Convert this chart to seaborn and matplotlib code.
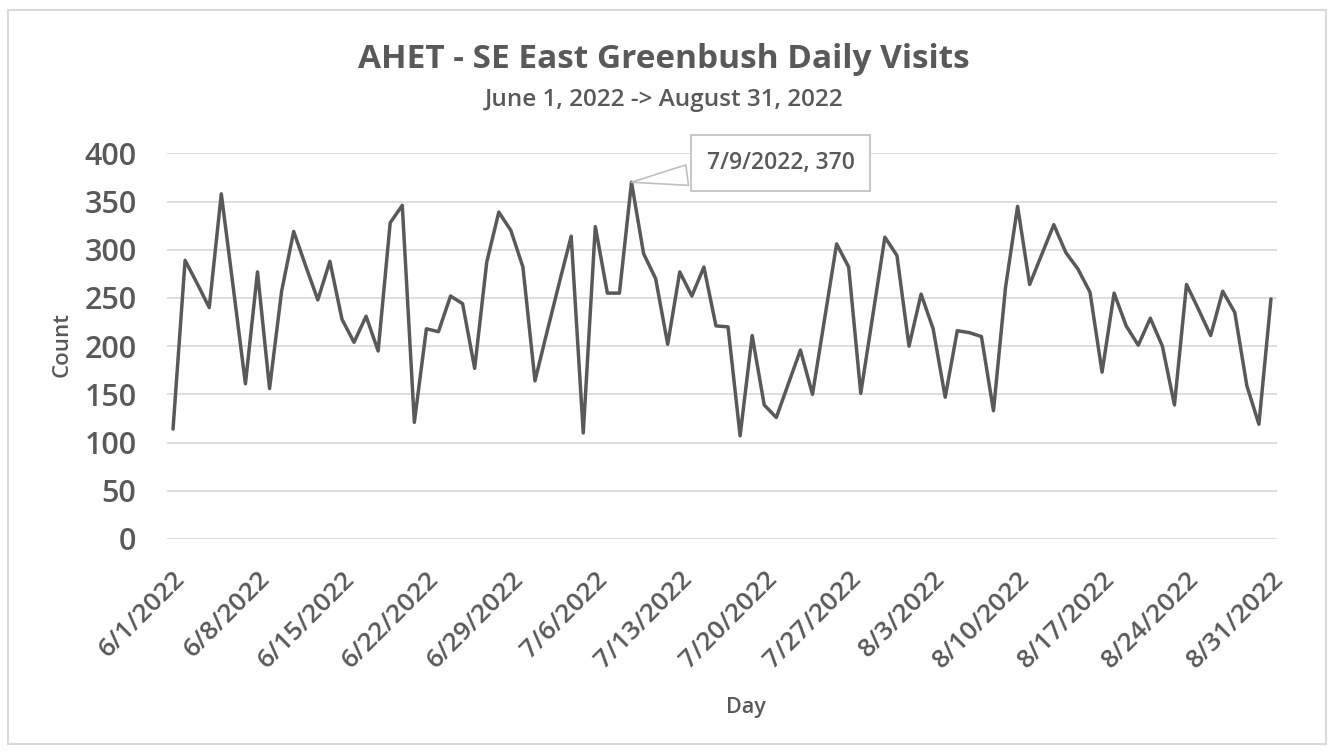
import matplotlib
matplotlib.use("Agg")
import matplotlib.pyplot as plt
from matplotlib.patches import Rectangle
import seaborn as sns
import numpy as np
import pandas as pd

# daily visit counts, 6/1/2022 .. 8/31/2022
counts = [114, 289, 265, 240, 358, 260, 161, 277, 156, 257,
          319, 283, 248, 288, 228, 204, 231, 195, 328, 346,
          121, 218, 215, 252, 244, 177, 287, 339, 320, 282,
          164, 215, 265, 314, 110, 324, 255, 255, 370, 296,
          270, 202, 277, 252, 282, 221, 220, 107, 211, 139,
          126, 161, 196, 150, 228, 306, 282, 151, 232, 313,
          294, 200, 254, 218, 147, 216, 214, 210, 133, 261,
          345, 264, 295, 326, 297, 280, 256, 173, 255, 221,
          201, 229, 200, 139, 264, 238, 211, 257, 235, 159,
          119, 249]
days = pd.date_range("2022-06-01", "2022-08-31", freq="D")
tick_labels = ["6/1/2022", "6/8/2022", "6/15/2022", "6/22/2022", "6/29/2022",
               "7/6/2022", "7/13/2022", "7/20/2022", "7/27/2022", "8/3/2022",
               "8/10/2022", "8/17/2022", "8/24/2022", "8/31/2022"]
y_ticks = [0, 50, 100, 150, 200, 250, 300, 350, 400]

df = pd.DataFrame({"pos": np.arange(len(days)), "day": days, "count": counts})

sns.set_style("white")
plt.rcParams["font.family"] = ["Open Sans", "DejaVu Sans"]
txt = "#595959"
grid = "#d9d9d9"

fig = plt.figure(figsize=(13.28, 7.52), dpi=100)
ax = fig.add_axes([167 / 1328, 1 - 539 / 752, 1110 / 1328, 385.7 / 752])

for v in y_ticks:
    ax.axhline(v, color=grid, lw=1.2, zorder=0)

sns.lineplot(data=df, x="pos", y="count", ax=ax, color="#595959", lw=2.5)

ax.set_xlim(-0.5, len(days) - 0.5)
ax.set_ylim(0, 400)
for s in ax.spines.values():
    s.set_visible(False)

# labels every 7 days, tick marks between categories
lab_pos = [i for i in range(0, len(days), 7)]
ax.set_xticks(lab_pos)
ax.set_xticklabels(tick_labels, rotation=45, ha="right", va="top",
                   rotation_mode="anchor", fontsize=19, color=txt, fontweight="semibold")
ax.tick_params(axis="x", length=0, pad=20)
ax.set_xticks([p - 0.5 for p in lab_pos], minor=True)
ax.tick_params(axis="x", which="minor", length=6, width=1.2, color=grid, direction="out")

ax.set_yticks(y_ticks)
ax.set_yticklabels([str(v) for v in y_ticks], fontsize=22, color=txt, fontweight="semibold")
ax.tick_params(axis="y", length=0, pad=22)

ax.set_xlabel("Day", fontsize=15.5, color=txt, fontweight="semibold")
ax.set_ylabel("Count", fontsize=16, color=txt, fontweight="semibold")
ax.xaxis.set_label_coords((746 - 167) / 1110, (539 - 697) / 385.7)
ax.yaxis.set_label_coords((73 - 167) / 1110, 0.503)

# callout on the max point
imax = int(np.argmax(counts))
ax.annotate(f"{days[imax].month}/{days[imax].day}/{days[imax].year}, {counts[imax]}",
            xy=(imax, counts[imax]), xytext=(149, 19), textcoords="offset pixels",
            ha="center", va="center", fontsize=16.5, color=txt, fontweight="semibold",
            bbox=dict(boxstyle="square,pad=0.7", fc="white", ec="#bfbfbf", lw=1.2),
            arrowprops=dict(arrowstyle="wedge,tail_width=0.9,shrink_factor=0.5",
                            fc="white", ec="#bfbfbf", lw=1.2, shrinkB=0))

fig.text(0.5, 1 - 60 / 752, "AHET - SE East Greenbush Daily Visits", ha="center", va="center",
         fontsize=24, color=txt, fontweight="bold")
fig.text(0.5, 1 - 100 / 752, "June 1, 2022 -> August 31, 2022", ha="center", va="center",
         fontsize=17.5, color=txt, fontweight="semibold")

fig.patches.append(Rectangle((8 / 1328, 1 - 744 / 752), 1318 / 1328, 734 / 752,
                             transform=fig.transFigure, fill=False, ec=grid, lw=1.5))

fig.savefig("out.png", dpi=100, facecolor="white")
